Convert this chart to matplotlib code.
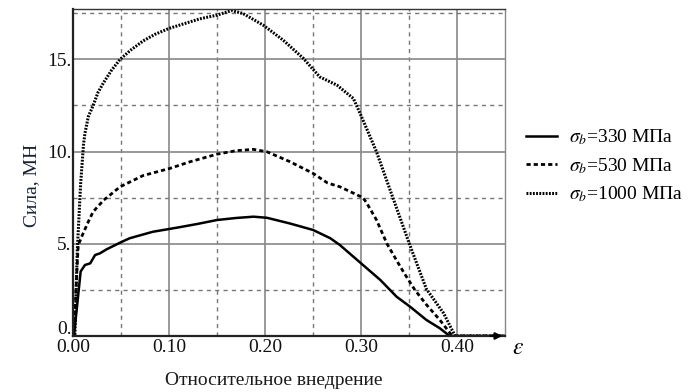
import numpy as np
import matplotlib
matplotlib.use("Agg")
import matplotlib.pyplot as plt
import matplotlib.transforms as mtransforms

plt.rcParams['font.family'] = ['Liberation Serif', 'DejaVu Serif']
plt.rcParams['mathtext.fontset'] = 'stix'

# sigma_b = 330 MPa
x330 = [0.0, 0.001, 0.008, 0.0125, 0.018, 0.023, 0.028, 0.035, 0.049, 0.059, 0.083,
        0.11, 0.13, 0.15, 0.17, 0.188, 0.202, 0.226, 0.25, 0.268, 0.278, 0.292,
        0.302, 0.32, 0.337, 0.351, 0.368, 0.382, 0.391, 0.395, 0.45]
y330 = [0.0, 0.0, 3.5, 3.85, 3.94, 4.39, 4.48, 4.7, 5.06, 5.3, 5.65,
        5.89, 6.08, 6.29, 6.4, 6.47, 6.41, 6.1, 5.75, 5.3, 4.93, 4.3,
        3.85, 3.04, 2.13, 1.59, 0.87, 0.42, 0.05, 0.0, 0.0]

# sigma_b = 530 MPa
x530 = [0.0, 0.001, 0.004, 0.0055, 0.009, 0.016, 0.021, 0.032, 0.0385, 0.049, 0.073,
        0.101, 0.122, 0.15, 0.17, 0.188, 0.202, 0.226, 0.25, 0.265, 0.278, 0.302,
        0.306, 0.316, 0.327, 0.337, 0.345, 0.356, 0.368, 0.382, 0.389, 0.395, 0.45]
y530 = [0.0, 0.0, 3.5, 4.93, 5.38, 6.2, 6.74, 7.37, 7.64, 8.09, 8.7,
        9.09, 9.45, 9.86, 10.05, 10.12, 9.99, 9.45, 8.82, 8.3, 8.09, 7.5,
        7.2, 6.3, 5.0, 4.1, 3.4, 2.5, 1.7, 0.87, 0.4, 0.0, 0.0]

# sigma_b = 1000 MPa
x1000 = [0.0, 0.002, 0.0045, 0.008, 0.011, 0.0125, 0.016, 0.021, 0.026, 0.032, 0.04,
         0.049, 0.06, 0.073, 0.085, 0.1, 0.132, 0.15, 0.165, 0.177, 0.198, 0.219,
         0.24, 0.257, 0.275, 0.292, 0.299, 0.316, 0.334, 0.351, 0.368, 0.386,
         0.394, 0.398, 0.45]
y1000 = [0.0, 0.0, 4.66, 8.28, 10.4, 11.0, 11.9, 12.5, 13.2, 13.75, 14.4,
         15.0, 15.5, 16.0, 16.35, 16.68, 17.2, 17.4, 17.65, 17.49, 16.86, 16.04,
         15.05, 14.05, 13.6, 12.88, 12.07, 10.0, 7.37, 4.9, 2.55, 1.23,
         0.4, 0.0, 0.0]

labels = [r'$\sigma_b$=330 МПа', r'$\sigma_b$=530 МПа', r'$\sigma_b$=1000 МПа']
xticks = [0.0, 0.1, 0.2, 0.3, 0.4]
xtick_labels = ['0.00', '0.10', '0.20', '0.30', '0.40']
yticks = [0, 5, 10, 15]
ytick_labels = ['0.', '5.', '10.', '15.']

fs = 14
fig = plt.figure(figsize=(6.97, 3.92), dpi=100)
ax = fig.add_axes([0.1047, 0.1429, 0.62, 0.834])

ax.plot(x330, y330, color='black', lw=1.8, label=labels[0])
ax.plot(x530, y530, color='black', lw=2.0, dashes=(1.5, 1.1), label=labels[1])
ax.plot(x1000, y1000, color='black', lw=2.2, dashes=(0.6, 0.45), label=labels[2])

ax.set_xlim(0, 0.45)
ax.set_ylim(0, 17.73)
ax.set_xticks(xticks)
ax.set_xticklabels(xtick_labels)
ax.set_yticks(yticks)
ax.set_yticklabels(ytick_labels)
ax.set_xticks([0.05, 0.15, 0.25, 0.35], minor=True)
ax.set_yticks([2.5, 7.5, 12.5, 17.5], minor=True)
ax.tick_params(which='both', length=0, labelsize=fs, colors='#111111')
ax.tick_params(axis='x', pad=2)
ax.tick_params(axis='y', pad=1)

# lift the "0." label a little, as in the original
lbl0 = ax.get_yticklabels()[0]
lbl0.set_transform(lbl0.get_transform() +
                   mtransforms.ScaledTranslation(0, 8 / 100, fig.dpi_scale_trans))

ax.grid(True, which='major', color='#888888', lw=1.2)
ax.grid(True, which='minor', color='#777777', lw=1.0, ls=(0, (3, 3)))
ax.set_axisbelow(True)

for s in ['left', 'bottom']:
    ax.spines[s].set_linewidth(1.6)
    ax.spines[s].set_color('#222222')
ax.spines['top'].set_linewidth(1.0)
ax.spines['top'].set_color('#333333')
ax.spines['right'].set_linewidth(1.0)
ax.spines['right'].set_color('#888888')

ax.annotate('', xy=(1.0, 0), xytext=(0.96, 0), xycoords='axes fraction',
            arrowprops=dict(arrowstyle='-|>', color='black', lw=1.5,
                            mutation_scale=10))

ax.set_xlabel('Относительное внедрение', fontsize=fs, color='#1a1a1a')
ax.xaxis.set_label_coords(0.465, -0.11)
ax.set_ylabel('Сила, МН', fontsize=fs, color='#1a2235')
ax.yaxis.set_label_coords(-0.075, 0.46)

ax.text(1.03, -0.037, r'$\varepsilon$', transform=ax.transAxes, fontsize=17,
        ha='center', va='center')

fig.legend(loc='center left', bbox_to_anchor=(0.755, 0.577), frameon=False,
           fontsize=fs, handlelength=1.6, handletextpad=0.6, labelspacing=0.45,
           borderpad=0, borderaxespad=0)

fig.savefig('out.png', dpi=100)
